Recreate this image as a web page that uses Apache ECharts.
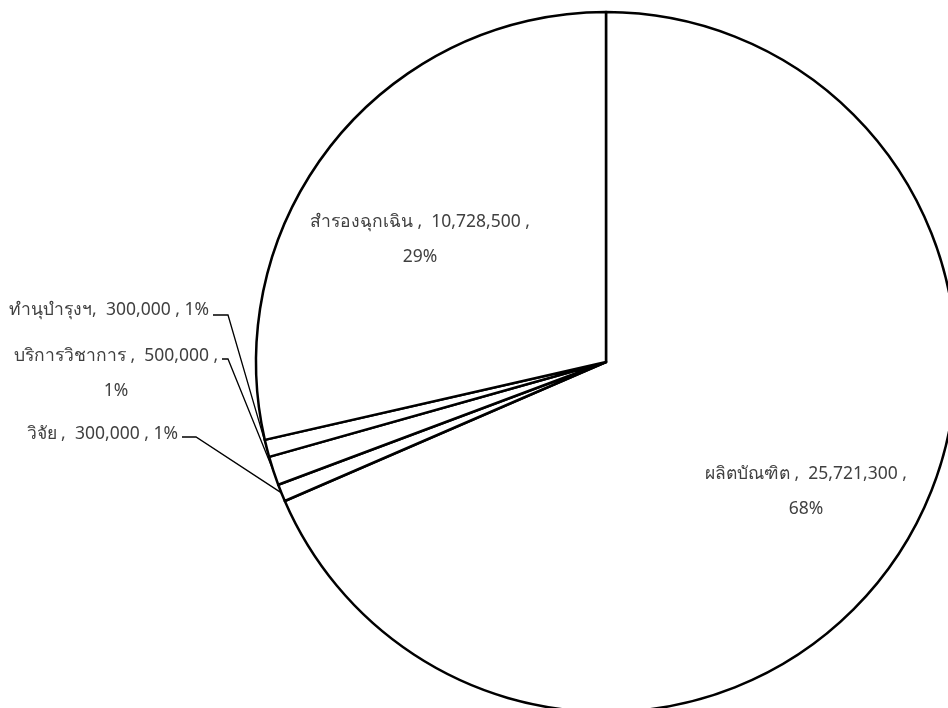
<!DOCTYPE html>
<html>
<head>
<meta charset="utf-8">
<script src="https://cdn.jsdelivr.net/npm/echarts@6/dist/echarts.min.js"></script>
<style>html,body{margin:0;padding:0;background:#fff;}#c{width:948px;height:708px;}</style>
</head>
<body>
<div id="c"></div>
<script>
// Data (clockwise from 12 o'clock)
const categories = ['ผลิตบัณฑิต', 'วิจัย', 'บริการวิชาการ', 'ทำนุบำรุงฯ', 'สำรองฉุกเฉิน'];
const values = [25721300, 300000, 500000, 300000, 10728500];

// Label placement (layout only)
const labelPos = [
  {x: 806, y: 492, align: 'center'},
  {x: 178, y: 434, align: 'right', line: [[196, 437], [182, 437]]},
  {x: 116, y: 374, align: 'center', line: [[228, 359], [222, 359]]},
  {x: 209, y: 310, align: 'right', line: [[228, 315], [213, 315]]},
  {x: 420, y: 240, align: 'center'}
];
const sepAfterName = {'ทำนุบำรุงฯ': ','};
const twoLine = {'ผลิตบัณฑิต': true, 'สำรองฉุกเฉิน': true, 'บริการวิชาการ': true};
const total = values.reduce(function (a, b) { return a + b; }, 0);

const chart = echarts.init(document.getElementById('c'), null, {renderer: 'canvas'});
const bigIdx = [0, 4];
chart.setOption({
  backgroundColor: '#ffffff',
  animation: false,
  series: [{
    type: 'pie',
    center: [606, 362],
    radius: 350,
    startAngle: 90,
    clockwise: true,
    avoidLabelOverlap: false,
    itemStyle: {color: '#ffffff', borderColor: '#000000', borderWidth: 2.5},
    label: {
      show: true,
      position: 'outside',
      color: '#404040',
      fontSize: 17.5,
      lineHeight: 35,
      fontFamily: 'Tahoma, "Noto Sans", "DejaVu Sans", sans-serif',
      formatter: function (p) {
        const sep = sepAfterName[p.name] || ' ,';
        const v = p.value.toLocaleString('en-US');
        const pct = Math.round(p.value / total * 100) + '%';
        return p.name + sep + '  ' + v + ' ,' + (twoLine[p.name] ? '\n' : ' ') + pct;
      }
    },
    labelLine: {show: true, lineStyle: {color: '#000000', width: 1.3}},
    emphasis: {disabled: true},
    labelLayout: function (params) {
      const lp = labelPos[params.dataIndex];
      const out = {x: lp.x, y: lp.y, align: lp.align, verticalAlign: 'middle'};
      if (lp.line && params.labelLinePoints) {
        out.labelLinePoints = [params.labelLinePoints[0], lp.line[0], lp.line[1]];
      }
      return out;
    },
    data: categories.map(function (name, i) {
      const d = {name: name, value: values[i]};
      if (bigIdx.indexOf(i) >= 0) d.labelLine = {show: false};
      return d;
    })
  }]
});
</script>
</body>
</html>
